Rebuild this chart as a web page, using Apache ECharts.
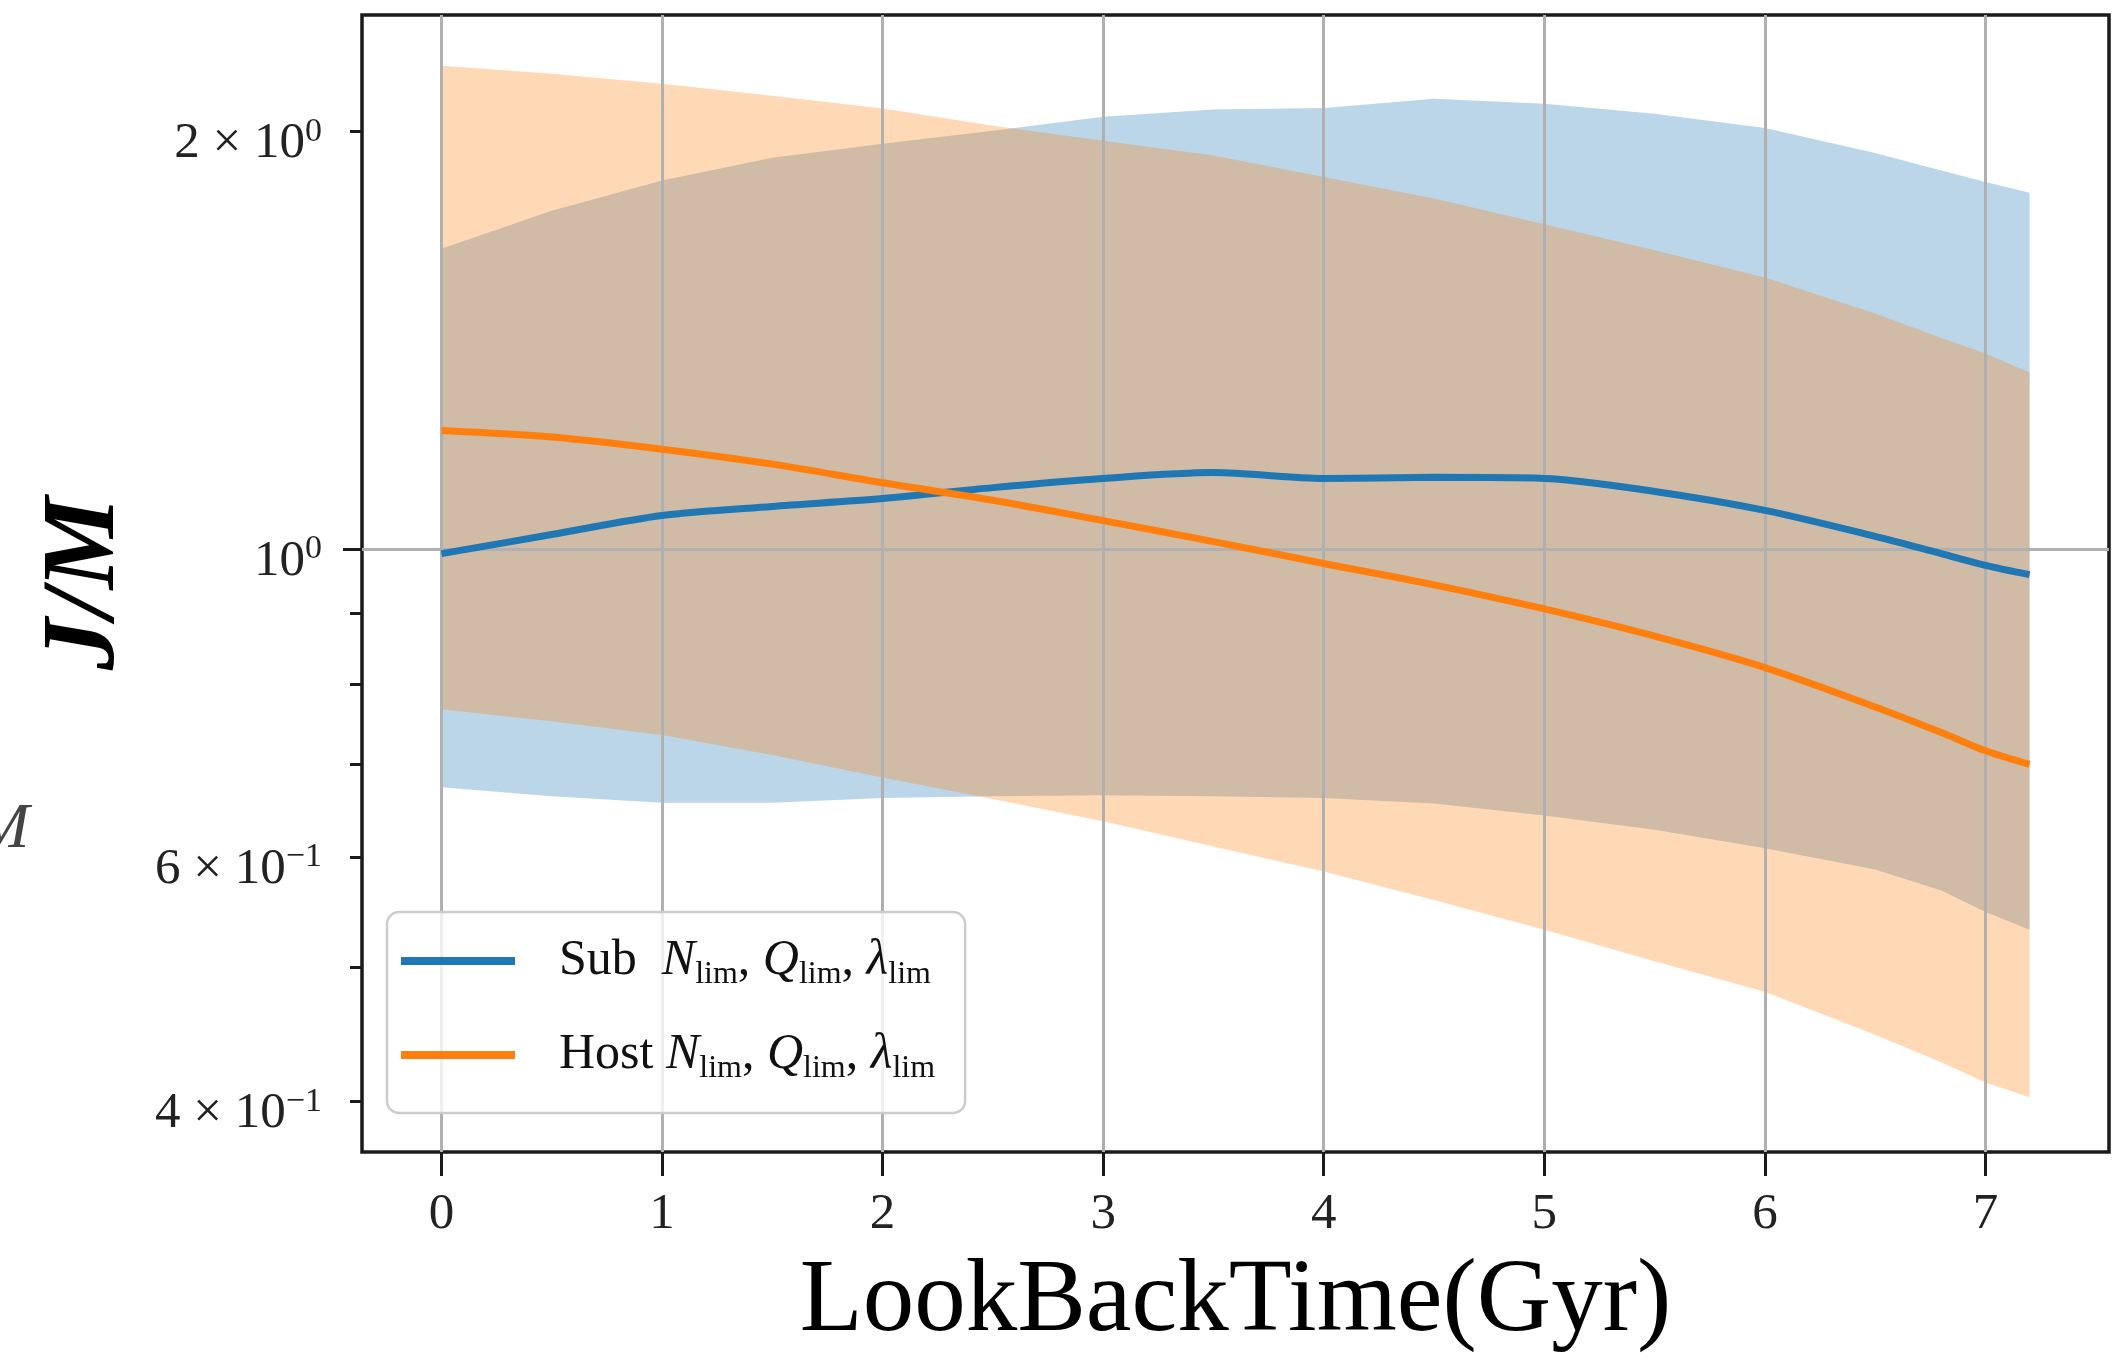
<!DOCTYPE html>
<html>
<head>
<meta charset="utf-8">
<script src="https://cdn.jsdelivr.net/npm/echarts@6.0.0/dist/echarts.min.js"></script>
<style>
  html, body { margin: 0; padding: 0; background: #fff; }
  #jmChart { width: 2122px; height: 1360px; }
</style>
</head>
<body>
<div id="jmChart"></div>
<script>
// look back time (Gyr)
var lookBack = [0, 0.5, 1, 1.5, 2, 2.5, 3, 3.5, 4, 4.5, 5, 5.5, 6, 6.5, 6.8, 7, 7.2];
// J/M, sub haloes
var subMid  = [0.993, 1.025, 1.058, 1.074, 1.088, 1.108, 1.125, 1.136, 1.125, 1.127, 1.125, 1.101, 1.067, 1.022, 0.993, 0.974, 0.959];
var subHigh = [1.647, 1.754, 1.844, 1.915, 1.960, 2.003, 2.050, 2.075, 2.080, 2.112, 2.095, 2.060, 2.012, 1.930, 1.875, 1.840, 1.807];
var subLow  = [0.674, 0.664, 0.657, 0.657, 0.662, 0.664, 0.665, 0.664, 0.662, 0.656, 0.643, 0.628, 0.609, 0.588, 0.568, 0.548, 0.532];
// J/M, host haloes
var hostMid  = [1.218, 1.205, 1.181, 1.152, 1.117, 1.085, 1.049, 1.013, 0.977, 0.943, 0.906, 0.866, 0.822, 0.770, 0.738, 0.716, 0.700];
var hostHigh = [2.231, 2.202, 2.165, 2.123, 2.078, 2.020, 1.970, 1.922, 1.855, 1.790, 1.715, 1.643, 1.570, 1.479, 1.420, 1.384, 1.341];
var hostLow  = [0.767, 0.752, 0.735, 0.711, 0.685, 0.661, 0.637, 0.611, 0.586, 0.559, 0.532, 0.505, 0.480, 0.447, 0.427, 0.413, 0.403];

var xTicks = [0, 1, 2, 3, 4, 5, 6, 7];
var yMajorTicks = [1];
var yMinorTicks = [0.4, 0.5, 0.6, 0.7, 0.8, 0.9, 2];
var yLabelTicks = [0.4, 0.6, 1, 2];
var yLabelText = ['{m|4 × 10}{s|−1}', '{m|6 × 10}{s|−1}', '{m|10}{s|0}', '{m|2 × 10}{s|0}'];
var xMin = -0.36, xMax = 7.56, yMin = 0.368, yMax = 2.427;

var serif = '"Liberation Serif", "DejaVu Serif", serif';

function pairs(ys) {
  return lookBack.map(function (x, i) { return [x, ys[i]]; });
}
function rows(lo, hi) {
  return lookBack.map(function (x, i) { return [x, lo[i], hi[i]]; });
}
function lg(v) { return Math.log10(v); }

// one polygon between lower and upper edge, drawn once from the whole data set
function renderBand(fill) {
  return function (params, api) {
    if (params.dataIndexInside !== 0) return;
    var n = params.dataInsideLength;
    var top = [], bottom = [];
    for (var i = 0; i < n; i++) {
      var x = api.value(0, i);
      bottom.push(api.coord([x, api.value(1, i)]));
      top.push(api.coord([x, api.value(2, i)]));
    }
    return {
      type: 'polygon',
      shape: { points: bottom.concat(top.reverse()) },
      style: { fill: fill, stroke: null }
    };
  };
}

function bandSeries(lo, hi, fill) {
  return {
    type: 'custom', coordinateSystem: 'cartesian2d', yAxisIndex: 0,
    data: rows(lo, hi), encode: { x: 0, y: [1, 2] },
    renderItem: renderBand(fill), silent: true, z: 1
  };
}

var tickColor = '#1a1a1a';
var gridColor = '#b0b0b0';

var option = {
  animation: false,
  backgroundColor: '#ffffff',
  grid: {
    left: 362, top: 15, right: 13, bottom: 208,
    show: true, borderColor: tickColor, borderWidth: 3.5, backgroundColor: 'transparent'
  },
  legend: {
    data: ['Sub', 'Host'],
    orient: 'vertical',
    left: 387, top: 912,
    padding: [24, 30, 28, 14],
    itemGap: 39,
    itemWidth: 114, itemHeight: 8,
    icon: 'rect',
    selectedMode: false,
    backgroundColor: 'rgba(255,255,255,0.8)',
    borderColor: '#cccccc', borderWidth: 2.5, borderRadius: 12,
    formatter: function (name) {
      var head = name === 'Sub' ? '{h|Sub}{t|  }' : '{h|Host}{t| }';
      return head + '{i|N}{b|lim}{t|, }{i|Q}{b|lim}{t|, }{i|λ}{b|lim}';
    },
    textStyle: {
      color: '#111',
      fontFamily: serif,
      fontSize: 50,
      rich: {
        h: { fontFamily: serif, fontSize: 50, lineHeight: 60, color: '#111', padding: [0, 0, 0, 39] },
        t: { fontFamily: serif, fontSize: 50, lineHeight: 60, color: '#111' },
        i: { fontFamily: serif, fontSize: 50, lineHeight: 60, color: '#111', fontStyle: 'italic' },
        b: { fontFamily: serif, fontSize: 32, lineHeight: 35, color: '#111', verticalAlign: 'bottom' }
      }
    }
  },
  graphic: [
    {
      type: 'text', x: -24, y: 798,
      style: { text: 'M', font: 'italic 64px "Liberation Serif"', fill: '#444' }
    }
  ],
  xAxis: {
    type: 'value', min: xMin, max: xMax, z: 2,
    axisLine: { show: false, onZero: false },
    axisTick: { customValues: xTicks, length: 24, lineStyle: { color: tickColor, width: 3 } },
    axisLabel: {
      customValues: xTicks, margin: 37, color: '#222',
      fontFamily: serif, fontSize: 51, lineHeight: 52
    },
    splitLine: { show: true, lineStyle: { color: gridColor, width: 3 } },
    name: 'LookBackTime(Gyr)', nameLocation: 'middle', nameGap: 99,
    nameTextStyle: { fontFamily: serif, fontSize: 103, lineHeight: 103, color: '#000' }
  },
  yAxis: [
    {
      // data axis
      type: 'log', logBase: 10, min: yMin, max: yMax,
      axisLine: { show: false, onZero: false }, axisTick: { show: false },
      axisLabel: { show: false }, splitLine: { show: false }
    },
    {
      // major tick, labels, grid line at 10^0 (log10 space)
      type: 'value', min: lg(yMin), max: lg(yMax), position: 'left', z: 2,
      axisLine: { show: false, onZero: false },
      axisTick: { customValues: yMajorTicks.map(lg), length: 19, lineStyle: { color: tickColor, width: 3 } },
      axisLabel: {
        customValues: yLabelTicks.map(lg), margin: 40,
        formatter: function (v) {
          for (var i = 0; i < yLabelTicks.length; i++) {
            if (Math.abs(lg(yLabelTicks[i]) - v) < 1e-6) return yLabelText[i];
          }
          return '';
        },
        rich: {
          m: { fontFamily: serif, fontSize: 51, lineHeight: 51, color: '#222', padding: [24, 0, 0, 0] },
          s: { fontFamily: serif, fontSize: 34, lineHeight: 51, color: '#222' }
        }
      },
      splitLine: { show: true, lineStyle: { color: gridColor, width: 3 } },
      name: 'J/M', nameLocation: 'middle', nameGap: 224,
      nameTextStyle: { fontFamily: serif, fontStyle: 'italic', fontWeight: 'bold', fontSize: 104, color: '#000' }
    },
    {
      // minor ticks
      type: 'value', min: lg(yMin), max: lg(yMax), position: 'left', z: 2,
      axisLine: { show: false, onZero: false },
      axisTick: { customValues: yMinorTicks.map(lg), length: 12, lineStyle: { color: tickColor, width: 3 } },
      axisLabel: { show: false }, splitLine: { show: false }
    }
  ],
  series: [
    bandSeries(subLow, subHigh, 'rgba(31,119,180,0.3)'),
    bandSeries(hostLow, hostHigh, 'rgba(255,127,14,0.3)'),
    {
      name: 'Sub', type: 'line', data: pairs(subMid), yAxisIndex: 0,
      symbol: 'none', smooth: 0.3, color: '#1f77b4', lineStyle: { color: '#1f77b4', width: 7 }, z: 3
    },
    {
      name: 'Host', type: 'line', data: pairs(hostMid), yAxisIndex: 0,
      symbol: 'none', smooth: 0.3, color: '#ff7f0e', lineStyle: { color: '#ff7f0e', width: 7 }, z: 3
    }
  ]
};

var jmChart = echarts.init(document.getElementById('jmChart'));
jmChart.setOption(option);
</script>
</body>
</html>
